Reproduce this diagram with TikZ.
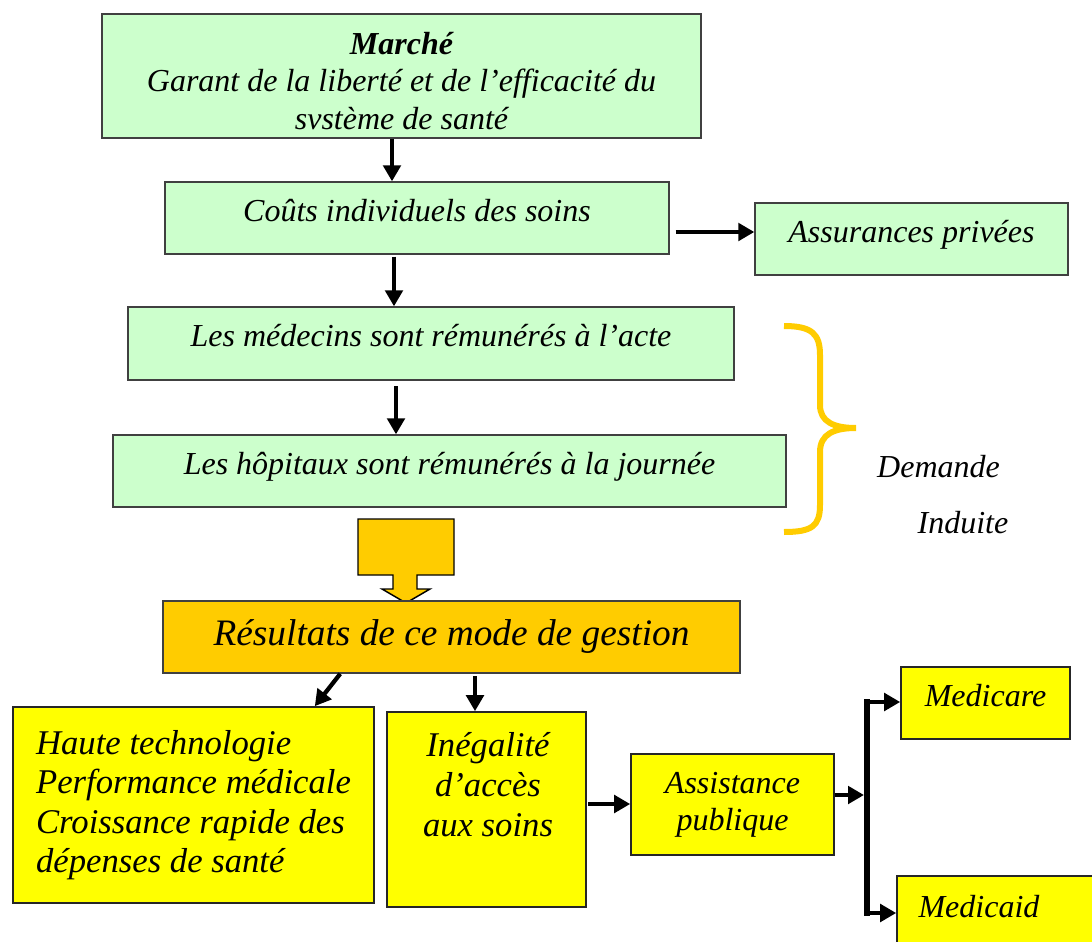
\documentclass[tikz,border=0pt]{standalone}
\usepackage{fontspec}
\setmainfont{Liberation Serif}
\usetikzlibrary{arrows.meta}
\definecolor{vert}{HTML}{CCFFCC}
\definecolor{jaune}{HTML}{FFFF00}
\definecolor{orangej}{HTML}{FFCC00}
\begin{document}
\begin{tikzpicture}[x=0.75pt,y=-0.75pt,
    gbox/.style={draw=black!75,line width=1pt,fill=vert,inner sep=0pt,text depth=12pt,
      font=\fontsize{24}{28}\selectfont\itshape},
    ybox/.style={draw=black!85,line width=1.2pt,fill=jaune,inner sep=0pt,align=center,
      font=\fontsize{24}{28}\selectfont\itshape},
    txt/.style={inner sep=0pt,align=center,font=\fontsize{24}{28}\selectfont\itshape},
    arr/.style={line width=3.2pt,-{Triangle[length=12pt,width=13pt]}},
  ]
  \useasboundingbox (0,0) rectangle (1092,942);
  % boites du haut
  \node[gbox,text depth=0pt,minimum width=449.25pt,minimum height=93pt] (marche) at (401.5,76) {};
  \node[txt] (marchetxt) at (401.5,81)
    {\textbf{Marché}\\Garant de la liberté et de l’efficacité du\\svstème de santé};
  \node[gbox,minimum width=378pt,minimum height=54pt] (couts) at (417,218)
    {Coûts individuels des soins};
  \node[gbox,minimum width=234.75pt,minimum height=54pt] (assur) at (911.5,239)
    {Assurances privées};
  \node[gbox,minimum width=454.5pt,minimum height=54.75pt] (medecins) at (431,343.5)
    {Les médecins sont rémunérés à l’acte};
  \node[gbox,minimum width=504.75pt,minimum height=54pt] (hopitaux) at (449.5,471)
    {Les hôpitaux sont rémunérés à la journée};
  \draw[arr] (marche.south -| 392,0) -- (couts.north -| 392,0);
  \draw[arr,shorten <=1.5pt] (couts.south -| 394,0) -- (medecins.north -| 394,0);
  \draw[arr,shorten <=4pt] (medecins.south -| 396,0) -- (hopitaux.north -| 396,0);
  \draw[arr,shorten <=4.5pt] (couts.east |- 0,232) -- (assur.west |- 0,232);
  % accolade
  \draw[orangej,line width=4.5pt]
    (784,326) .. controls (812,326) and (820,334) .. (820,355) -- (820,405)
    .. controls (820,422) and (834,428) .. (856,428)
    .. controls (834,428) and (820,434) .. (820,452) -- (820,505)
    .. controls (820,526) and (812,532) .. (784,532);
  \node[txt] (demande) at (938.5,467) {Demande};
  \node[txt] (induite) at (963,523) {Induite};
  % grosse fleche
  \draw[line width=1.1pt,fill=orangej] (358,519) -- (454,519) -- (454,575) -- (417,575)
    -- (417,589) -- (430,589) -- (406,603) -- (382,589) -- (393,589) -- (393,575)
    -- (358,575) -- cycle;
  \node[draw=black!75,line width=1.2pt,fill=orangej,inner sep=0pt,minimum width=432.75pt,
    minimum height=54pt,text depth=6pt,font=\fontsize{28}{32}\selectfont\itshape] (res) at (451.5,637)
    {Résultats de ce mode de gestion};
  % boites du bas
  \node[ybox,minimum width=270.75pt,minimum height=147pt,align=left,
    font=\fontsize{26}{29.6}\selectfont\itshape] (haute) at (193.5,805)
    {Haute technologie\\Performance médicale\\Croissance rapide des\\dépenses de santé};
  \node[ybox,minimum width=149.25pt,minimum height=146.25pt] (ineg) at (486.5,809.5) {};
  \node[txt,font=\fontsize{26}{30}\selectfont\itshape] (inegtxt) at (488,785)
    {Inégalité\\d’accès\\aux soins};
  \node[ybox,minimum width=152.25pt,minimum height=75.75pt] (assist) at (732.5,804.5)
    {Assistance\\publique};
  \node[ybox,text depth=12pt,minimum width=126.75pt,minimum height=54pt] (medicare) at (985.5,703)
    {Medicare};
  \node[ybox,minimum width=148.5pt,minimum height=55.5pt] (medicaid) at (996,913) {};
  \node[txt] (medicaidtxt) at (979,907) {Medicaid};
  \draw[arr] ([xshift=133.5pt]res.south west) -- ([xshift=-45pt]haute.north east);
  \draw[arr,shorten <=2pt] (res.south -| 475,0) -- (ineg.north -| 475,0);
  \draw[arr,shorten <=1pt] (ineg.east |- 0,804) -- (assist.west |- 0,804);
  \coordinate (fk) at (864,795);
  \coordinate (fktop) at (867,702);
  \coordinate (fkbot) at (867,913);
  \draw[line width=4pt,line cap=rect] (fktop) -- (fkbot);
  \draw[arr] (assist.east |- fk) -- (fk);
  \draw[arr] (fktop) -- (medicare.west |- fktop);
  \draw[arr] (fkbot) -- (medicaid.west);
\end{tikzpicture}
\end{document}
